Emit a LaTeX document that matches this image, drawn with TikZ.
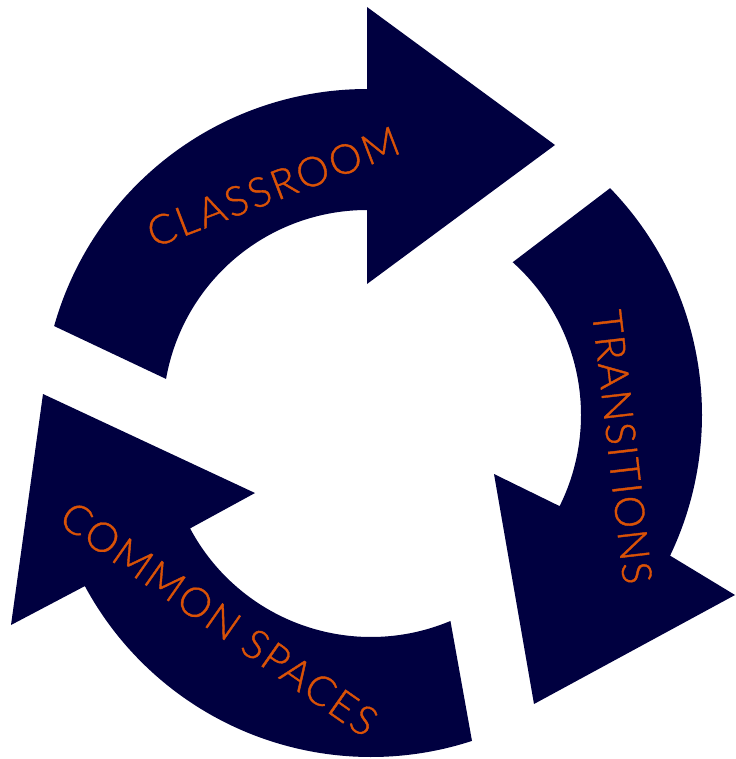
\documentclass[tikz,border=0pt]{standalone}
\usepackage{fontspec}
\setmainfont{Lato Light}
\newfontfamily\lblA[LetterSpace=6.2,FakeBold=1]{Lato Light}
\newfontfamily\lblB[LetterSpace=4,FakeBold=1]{Lato Light}
\newfontfamily\lblC[LetterSpace=5.2,FakeBold=1]{Lato Light}
\definecolor{navy}{HTML}{000040}
\definecolor{rust}{HTML}{DA5206}
\tikzset{
  band/.style={fill=navy,draw=none},
  label/.style={text=rust,anchor=base west,inner sep=0pt,outer sep=0pt}
}
\begin{document}
\begin{tikzpicture}[x=1pt,y=-1pt,variable=\a,samples=80]
\useasboundingbox (0,0) rectangle (735,759);
% top arrow
\fill[band] (367,284) -- (367,210)
  -- plot[domain=-90:-170.1] ({367+204*cos(\a)},{414+204*sin(\a)})
  -- plot[domain=-164.3:-90] ({367+325*cos(\a)},{414+325*sin(\a)})
  -- (367,7) -- (555,145) -- cycle;
% right arrow
\fill[band] (513,262)
  -- plot[domain=-48.2:26.4] ({376+205*cos(\a)},{415+205*sin(\a)})
  -- (494,474) -- (534,704) -- (735,595) -- (669,555)
  -- plot[domain=25.5:-44.1] ({376+326*cos(\a)},{415+326*sin(\a)})
  -- cycle;
% bottom arrow
\fill[band] (472,741)
  -- plot[domain=71.9:151.7] ({371+325*cos(\a)},{432+325*sin(\a)})
  -- (11,625) -- (43,394) -- (255,493) -- (189,529)
  -- plot[domain=152:67.2] ({371+205*cos(\a)},{432+205*sin(\a)})
  -- cycle;
\node[label,rotate=21] (classroom) at (154,248) {\fontsize{41}{41}\lblA CLASSROOM};
\node[label,rotate=-83.4] (transitions) at (592,312) {\fontsize{41}{41}\lblB TRANSITIONS};
\node[label,rotate=-35] (common) at (57,523) {\fontsize{41}{41}\lblC COMMON SPACES};
\end{tikzpicture}
\end{document}
